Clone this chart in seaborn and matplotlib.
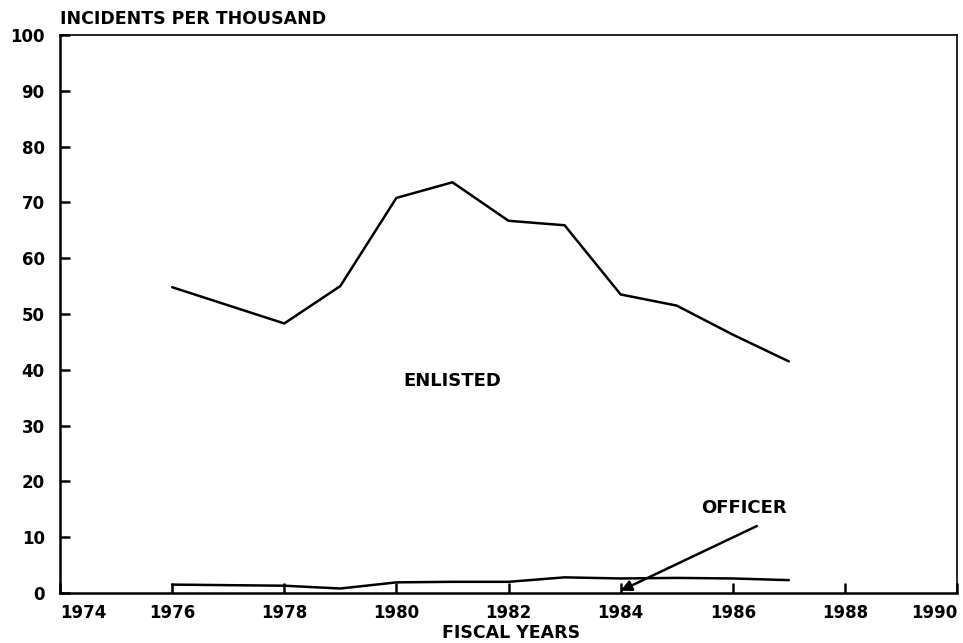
import matplotlib
matplotlib.use("Agg")
import matplotlib.pyplot as plt
import seaborn as sns
import pandas as pd

years = [1976, 1978, 1979, 1980, 1981, 1982, 1983, 1984, 1985, 1986, 1987]
enlisted = [54.8, 48.3, 55.0, 70.8, 73.6, 66.7, 65.9, 53.5, 51.5, 46.3, 41.5]
officer = [1.5, 1.3, 0.8, 1.9, 2.0, 2.0, 2.8, 2.6, 2.7, 2.6, 2.3]
x_ticks = [1974, 1976, 1978, 1980, 1982, 1984, 1986, 1988, 1990]
y_ticks = [0, 10, 20, 30, 40, 50, 60, 70, 80, 90, 100]

df = pd.DataFrame({
    "year": years * 2,
    "value": enlisted + officer,
    "group": ["ENLISTED"] * len(years) + ["OFFICER"] * len(years),
})

sns.set_theme(style="white")
plt.rcParams["font.family"] = ["DejaVu Sans"]
plt.rcParams["font.weight"] = "bold"
plt.rcParams["text.color"] = "black"
plt.rcParams["xtick.color"] = "black"
plt.rcParams["ytick.color"] = "black"
plt.rcParams["axes.labelcolor"] = "black"

fig = plt.figure(figsize=(9.63, 6.43), dpi=100)
ax = fig.add_axes([0.0623, 0.0778, 0.9315, 0.8678])

sns.lineplot(data=df, x="year", y="value", hue="group",
             palette={"ENLISTED": "black", "OFFICER": "black"},
             linewidth=1.8, legend=False, ax=ax)

ax.set_xlim(1974, 1990)
ax.set_ylim(0, 100)
ax.set_xticks(x_ticks)
ax.set_yticks(y_ticks)
ax.set_xticklabels([str(t) for t in x_ticks], fontsize=12, fontweight="bold")
ax.set_yticklabels([str(t) for t in y_ticks], fontsize=12, fontweight="bold")
labs = ax.get_xticklabels()
labs[0].set_ha("left")
labs[-1].set_ha("right")

ax.tick_params(axis="both", direction="in", length=7, width=1.8, color="black",
               labelcolor="black",
               bottom=True, left=True, top=False, right=False)
ax.tick_params(axis="x", pad=8)
ax.tick_params(axis="y", pad=11)
for s in ax.spines.values():
    s.set_visible(True)
    s.set_color("black")
    s.set_linewidth(1.8)
ax.spines["top"].set_linewidth(1.2)
ax.spines["right"].set_linewidth(1.2)

ax.set_xlabel("FISCAL YEARS", fontsize=12.5, fontweight="bold", color="black")
ax.xaxis.set_label_coords(0.503, -0.0717)
ax.xaxis.label.set_va("center")
ax.set_ylabel("")
ax.text(0.0, 1.012, "INCIDENTS PER THOUSAND", transform=ax.transAxes,
        fontsize=12.5, fontweight="bold", ha="left", va="bottom", color="black")

ax.text(1981.0, 38.0, "ENLISTED", fontsize=13, fontweight="bold",
        ha="center", va="center", color="black")
ax.text(1986.2, 15.2, "OFFICER", fontsize=13, fontweight="bold",
        ha="center", va="center", color="black")
ax.annotate("", xy=(1984.0, 0.4), xytext=(1986.43, 12.0),
            arrowprops=dict(arrowstyle="-|>", color="black", lw=1.8,
                            mutation_scale=16, shrinkA=0, shrinkB=0))

fig.savefig("out.png", dpi=100)
